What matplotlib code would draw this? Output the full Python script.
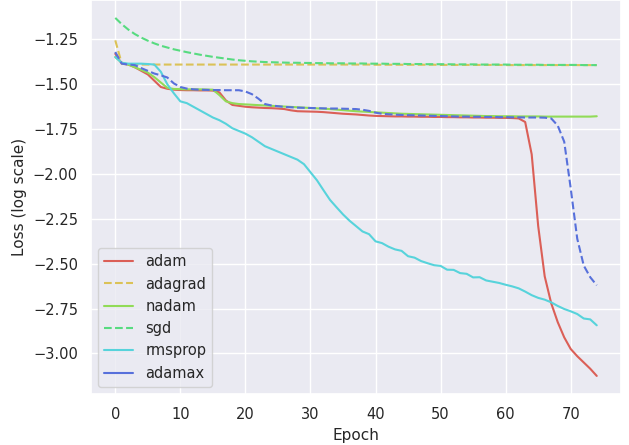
import numpy as np
import matplotlib.pyplot as plt
import seaborn as sns
from matplotlib.lines import Line2D

sns.set_theme(style="darkgrid")

# log-loss per epoch for each optimizer
epochs = list(range(75))

adam = [
    -1.33, -1.385, -1.39, -1.405, -1.425, -1.445, -1.48, -1.515, -1.525, -1.53,
    -1.532, -1.533, -1.533, -1.534, -1.534, -1.535, -1.545, -1.59, -1.615, -1.62,
    -1.625, -1.628, -1.63, -1.632, -1.633, -1.635, -1.638, -1.645, -1.65, -1.651,
    -1.652, -1.653, -1.655, -1.658, -1.661, -1.664, -1.666, -1.668, -1.671, -1.674,
    -1.676, -1.677, -1.678, -1.679, -1.679, -1.68, -1.68, -1.681, -1.681, -1.682,
    -1.682, -1.683, -1.683, -1.684, -1.684, -1.685, -1.685, -1.686, -1.686, -1.687,
    -1.687, -1.688, -1.69, -1.71, -1.89, -2.29, -2.57, -2.72, -2.825, -2.91,
    -2.975, -3.015, -3.05, -3.085, -3.125]

adagrad = [
    -1.255, -1.385, -1.388, -1.389, -1.39, -1.39, -1.39, -1.39, -1.39, -1.39,
    -1.39, -1.39, -1.39, -1.39, -1.39, -1.39, -1.39, -1.39, -1.39, -1.39,
    -1.39, -1.39, -1.39, -1.39, -1.39, -1.39, -1.39, -1.39, -1.39, -1.39,
    -1.39, -1.39, -1.39, -1.39, -1.39, -1.39, -1.39, -1.39, -1.39, -1.39,
    -1.391, -1.391, -1.391, -1.391, -1.391, -1.391, -1.391, -1.391, -1.391, -1.391,
    -1.392, -1.392, -1.392, -1.392, -1.392, -1.392, -1.392, -1.392, -1.392, -1.392,
    -1.393, -1.393, -1.393, -1.393, -1.393, -1.393, -1.393, -1.393, -1.393, -1.393,
    -1.393, -1.393, -1.393, -1.393, -1.393]

nadam = [
    -1.348, -1.38, -1.39, -1.405, -1.42, -1.435, -1.46, -1.49, -1.52, -1.526,
    -1.527, -1.528, -1.528, -1.528, -1.529, -1.53, -1.56, -1.595, -1.605, -1.61,
    -1.612, -1.614, -1.616, -1.618, -1.62, -1.622, -1.624, -1.626, -1.628, -1.63,
    -1.632, -1.634, -1.636, -1.638, -1.641, -1.644, -1.647, -1.65, -1.652, -1.654,
    -1.656, -1.658, -1.66, -1.662, -1.664, -1.665, -1.666, -1.667, -1.668, -1.669,
    -1.67, -1.671, -1.672, -1.673, -1.674, -1.675, -1.676, -1.677, -1.677, -1.678,
    -1.678, -1.678, -1.679, -1.679, -1.679, -1.679, -1.68, -1.68, -1.68, -1.68,
    -1.68, -1.68, -1.68, -1.68, -1.678]

sgd = [
    -1.13, -1.165, -1.195, -1.22, -1.24, -1.257, -1.272, -1.285, -1.295, -1.305,
    -1.313, -1.321, -1.328, -1.335, -1.341, -1.347, -1.352, -1.357, -1.362, -1.366,
    -1.369, -1.372, -1.374, -1.376, -1.377, -1.378, -1.379, -1.38, -1.38, -1.381,
    -1.381, -1.382, -1.382, -1.383, -1.383, -1.383, -1.384, -1.384, -1.384, -1.385,
    -1.385, -1.385, -1.386, -1.386, -1.386, -1.387, -1.387, -1.387, -1.388, -1.388,
    -1.388, -1.388, -1.389, -1.389, -1.389, -1.389, -1.39, -1.39, -1.39, -1.39,
    -1.39, -1.391, -1.391, -1.391, -1.391, -1.391, -1.392, -1.392, -1.392, -1.392,
    -1.392, -1.392, -1.393, -1.393, -1.393]

rmsprop = [
    -1.348, -1.38, -1.385, -1.385, -1.385, -1.387, -1.39, -1.43, -1.50, -1.55,
    -1.595, -1.605, -1.625, -1.645, -1.665, -1.685, -1.70, -1.72, -1.745, -1.76,
    -1.775, -1.795, -1.82, -1.845, -1.86, -1.875, -1.89, -1.905, -1.92, -1.945,
    -1.99, -2.035, -2.09, -2.144, -2.185, -2.225, -2.26, -2.29, -2.32, -2.335,
    -2.375, -2.385, -2.405, -2.42, -2.428, -2.458, -2.466, -2.485, -2.497, -2.508,
    -2.512, -2.533, -2.534, -2.552, -2.556, -2.576, -2.575, -2.593, -2.6, -2.607,
    -2.617, -2.626, -2.637, -2.655, -2.675, -2.69, -2.70, -2.715, -2.735, -2.752,
    -2.765, -2.78, -2.805, -2.81, -2.843]

adamax = [
    -1.32, -1.385, -1.39, -1.393, -1.41, -1.425, -1.44, -1.45, -1.462, -1.495,
    -1.515, -1.524, -1.528, -1.53, -1.531, -1.532, -1.532, -1.533, -1.533, -1.533,
    -1.54, -1.555, -1.58, -1.61, -1.618, -1.622, -1.626, -1.628, -1.63, -1.631,
    -1.632, -1.633, -1.634, -1.635, -1.635, -1.636, -1.637, -1.638, -1.642, -1.648,
    -1.658, -1.664, -1.667, -1.669, -1.671, -1.672, -1.673, -1.674, -1.675, -1.676,
    -1.677, -1.678, -1.679, -1.68, -1.68, -1.681, -1.681, -1.682, -1.682, -1.683,
    -1.683, -1.684, -1.684, -1.685, -1.685, -1.685, -1.686, -1.69, -1.73, -1.82,
    -2.08, -2.36, -2.51, -2.575, -2.62]

names = ["adam", "adagrad", "nadam", "sgd", "rmsprop", "adamax"]
series = [adam, adagrad, nadam, sgd, rmsprop, adamax]
dashed = ["adagrad", "sgd", "adamax"]

colors = sns.color_palette("hls", 8)[:len(names)]

fig, ax = plt.subplots(figsize=(6.29, 4.45), dpi=100)
fig.subplots_adjust(left=0.145, right=0.987, top=1.0, bottom=0.115)

handles = []
for name, vals, c in zip(names, series, colors):
    ls = "--" if name in dashed else "-"
    ax.plot(epochs, vals, color=c, linestyle=ls, linewidth=1.5)
    # legend keeps adamax as a solid swatch
    leg_ls = "--" if name in ("adagrad", "sgd") else "-"
    handles.append(Line2D([], [], color=c, linestyle=leg_ls, linewidth=1.5))

ax.set_xlabel("Epoch", fontsize=11)
ax.set_ylabel("Loss (log scale)", fontsize=11)
ax.tick_params(labelsize=10.5)
ax.legend(handles, names, loc="lower left", fontsize=10.5)

fig.savefig("out.png", dpi=100)
